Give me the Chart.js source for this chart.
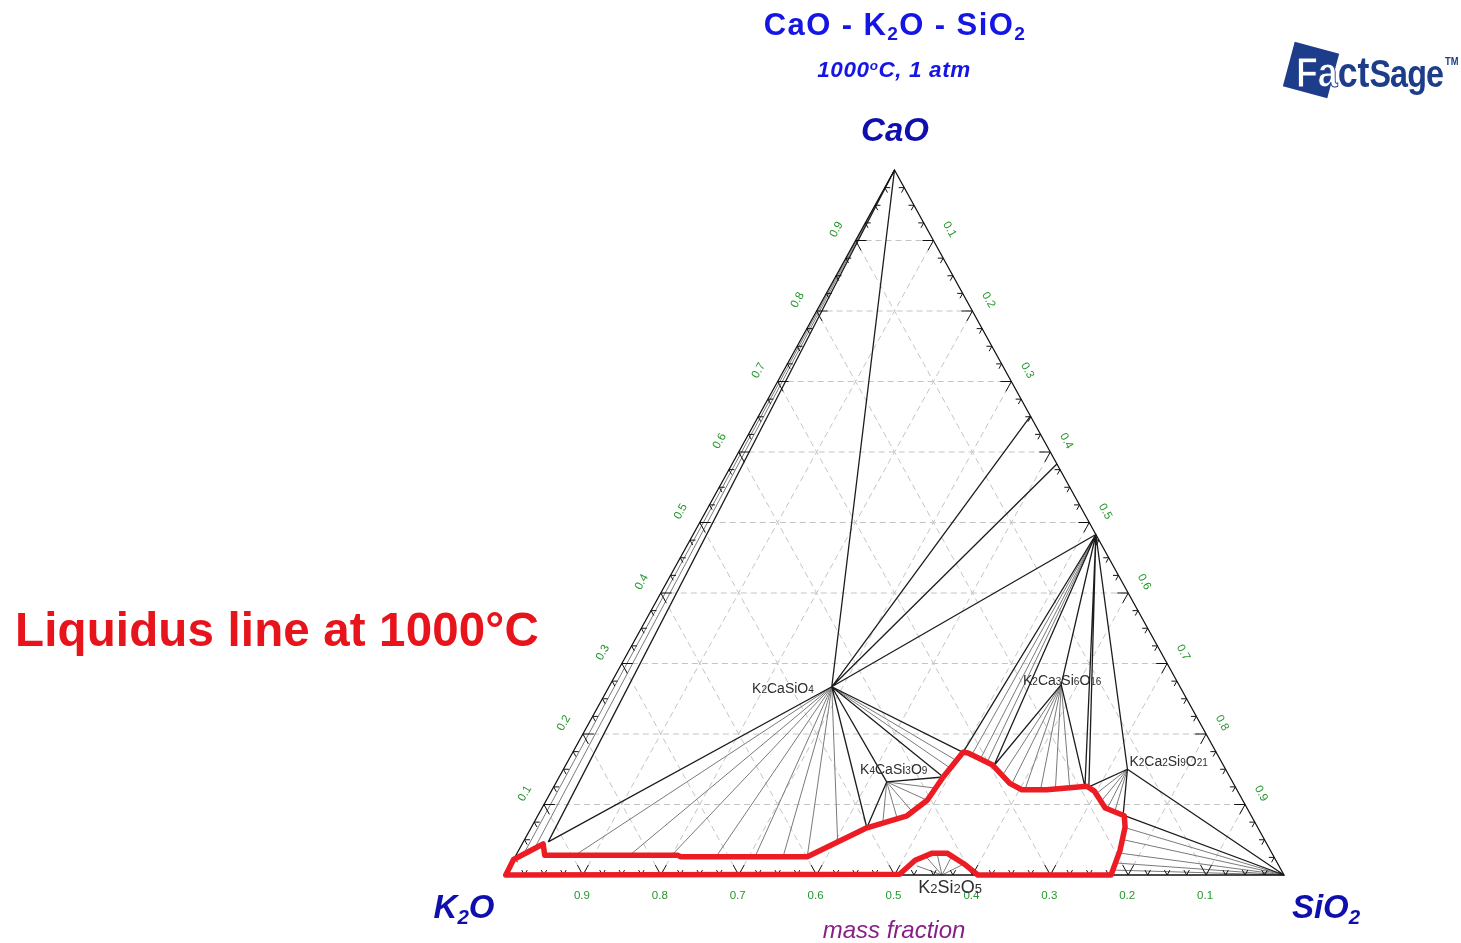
<!DOCTYPE html>
<html>
<head>
<meta charset="utf-8">
<title>CaO - K2O - SiO2 at 1000 °C</title>
<script src="https://cdn.jsdelivr.net/npm/chart.js@4.4.1/dist/chart.umd.min.js"></script>
<style>
  html, body { margin: 0; padding: 0; background: #fff; width: 1461px; height: 943px; overflow: hidden; }
  body { font-family: "Liberation Sans", Arial, sans-serif; }
  #wrap { position: absolute; left: 0; top: 0; width: 1461px; height: 943px; }
  .lbl { position: absolute; white-space: nowrap; line-height: 1; transform: translate(-50%, -50%); }
  .lbl sub { font-size: 0.62em; vertical-align: -0.3em; line-height: 0; }
  .lbl sup { font-size: 0.6em; vertical-align: 0.5em; line-height: 0; }
  #title { left: 895px; top: 24px; font-size: 31px; font-weight: bold; color: #1616e4; letter-spacing: 1.4px; }
  #subtitle { left: 894px; top: 70px; font-size: 22.5px; font-weight: bold; font-style: italic; color: #1616e4; letter-spacing: 0.6px; }
  .corner { font-size: 33px; font-weight: bold; font-style: italic; color: #0f0fae; }
  #cCaO { left: 895px; top: 129px; }
  #cK2O { left: 464px; top: 906px; }
  #cSiO2 { left: 1326px; top: 906px; }
  #massfrac { left: 894px; top: 930px; font-size: 24px; font-style: italic; color: #871f87; }
  #note { left: 277px; top: 630px; font-size: 47.5px; font-weight: bold; color: #e8141c; letter-spacing: 0.15px; }
  #logo { position: absolute; left: 1280px; top: 38px; width: 181px; height: 64px; }
  #logo .sq { position: absolute; left: 8px; top: 9px; width: 46px; height: 46px; background: #1d3d8a; transform: rotate(15deg); }
  #logo .word { position: absolute; left: 16px; top: 14px; font-size: 42px; font-weight: bold; color: #1d3d8a;
                transform: scaleX(0.85); transform-origin: left top; white-space: nowrap; line-height: 1; }
  #logo .f { color: #fff; -webkit-text-stroke: 1px #1d3d8a; }
  #logo .sage { font-size: 38px; letter-spacing: -1px; }
  #logo .tm { font-size: 11px; vertical-align: 22px; line-height: 0; margin-left: 2px; }
</style>
</head>
<body>
<div id="wrap"><canvas id="chart"></canvas></div>

<div class="lbl" id="title">CaO - K<sub>2</sub>O - SiO<sub>2</sub></div>
<div class="lbl" id="subtitle">1000<sup>o</sup>C, 1 atm</div>
<div class="lbl corner" id="cCaO">CaO</div>
<div class="lbl corner" id="cK2O">K<sub>2</sub>O</div>
<div class="lbl corner" id="cSiO2">SiO<sub>2</sub></div>
<div class="lbl" id="massfrac">mass fraction</div>
<div class="lbl" id="note">Liquidus line at 1000°C</div>
<div id="logo">
  <div class="sq"></div>
  <div class="word"><span class="f">Fa</span><span>ct</span><span class="sage">Sage</span><span class="tm">TM</span></div>
</div>

<script>
// Compositions are mass fractions written as [CaO, SiO2]; K2O is the remainder.

// Axis tick values (mass fraction)
const tickValues = [0.1, 0.2, 0.3, 0.4, 0.5, 0.6, 0.7, 0.8, 0.9];

// Stoichiometric phases
const phaseNames = ['K2O', 'CaO', 'SiO2', 'Ca2SiO4', 'Ca3Si2O7', 'CaSiO3',
                    'K2CaSiO4', 'K4CaSi3O9', 'K2Ca3Si6O16', 'K2Ca2Si9O21', 'K2Si2O5'];
const phaseCaO  = [0, 1, 0, 0.651, 0.583, 0.483, 0.267, 0.132, 0.270, 0.150, 0];
const phaseSiO2 = [0, 0, 1, 0.349, 0.417, 0.517, 0.286, 0.424, 0.579, 0.724, 0.561];

// Ternary compounds that carry a name
const namedCompounds = ['K2CaSiO4', 'K4CaSi3O9', 'K2Ca3Si6O16', 'K2Ca2Si9O21', 'K2Si2O5'];

// Tie lines between two solid phases
const solidTies = [
  ['CaO', 'K2CaSiO4'], ['Ca2SiO4', 'K2CaSiO4'], ['Ca3Si2O7', 'K2CaSiO4'], ['CaSiO3', 'K2CaSiO4'],
  ['K2CaSiO4', 'K4CaSi3O9'], ['CaSiO3', 'K2Ca3Si6O16'], ['CaSiO3', 'K2Ca2Si9O21'], ['K2Ca2Si9O21', 'SiO2']
];

// Solid + liquid tie lines: liquid ends [CaO, SiO2] for each solid.
// "Edge" ends bound the three-phase triangles; the others fill the two-phase fields.
const liqCaO_edge         = [[0.047, 0.032]];
const liqCaO              = [[0.033, 0.009], [0.038, 0.019]];
const liqK2CaSiO4_edge    = [[0.047, 0.032], [0.067, 0.431], [0.139, 0.493], [0.174, 0.501]];
const liqK2CaSiO4         = [[0.028, 0.076], [0.028, 0.146], [0.028, 0.200], [0.026, 0.258], [0.026, 0.308],
                             [0.026, 0.344], [0.026, 0.375], [0.048, 0.403], [0.152, 0.495], [0.163, 0.497]];
const liqK4CaSi3O9_edge   = [[0.067, 0.431], [0.139, 0.493]];
const liqK4CaSi3O9        = [[0.074, 0.448], [0.082, 0.462], [0.089, 0.479], [0.106, 0.489], [0.123, 0.493]];
const liqCaSiO3_edge      = [[0.174, 0.501], [0.155, 0.550], [0.125, 0.682], [0.125, 0.687]];
const liqCaSiO3           = [[0.170, 0.514], [0.163, 0.528], [0.159, 0.539]];
const liqK2Ca3Si6O16_edge = [[0.155, 0.550], [0.125, 0.682]];
const liqK2Ca3Si6O16      = [[0.143, 0.568], [0.129, 0.586], [0.121, 0.607], [0.121, 0.627], [0.121, 0.646], [0.122, 0.664]];
const liqK2Ca2Si9O21_edge = [[0.125, 0.687], [0.085, 0.751]];
const liqK2Ca2Si9O21      = [[0.115, 0.701], [0.104, 0.713], [0.094, 0.726], [0.089, 0.738]];
const liqSiO2_edge        = [[0.085, 0.751]];
const liqSiO2             = [[0.067, 0.763], [0.050, 0.769], [0.031, 0.774], [0.017, 0.776], [0.007, 0.777]];
const liqK2Si2O5          = [[0.013, 0.522], [0.024, 0.530], [0.031, 0.539], [0.030, 0.560], [0.017, 0.583]];

// Liquidus outline at 1000 °C (closed)
const liquidusCaO  = [0, 0.022, 0.044, 0.028, 0.028, 0.026, 0.026, 0.067, 0.084, 0.106, 0.139, 0.174, 0.173,
                      0.156, 0.130, 0.121, 0.121, 0.126, 0.119, 0.095, 0.084, 0.068, 0.035, 0,
                      0, 0, 0.016, 0.031, 0.031, 0.021, 0.001, 0];
const liquidusSiO2 = [0.001, 0, 0.027, 0.037, 0.208, 0.212, 0.375, 0.431, 0.474, 0.489, 0.493, 0.501, 0.508,
                      0.548, 0.583, 0.603, 0.635, 0.684, 0.697, 0.723, 0.753, 0.762, 0.772, 0.778,
                      0.695, 0.607, 0.581, 0.552, 0.533, 0.516, 0.506, 0.001];

// ---------------------------------------------------------------------------
// Ternary → plot coordinates: x runs K2O→SiO2 along the base, y is the CaO fraction.
const P = (c, s) => ({ x: s + c / 2, y: c });
const GAP = { x: null, y: null };
const phaseAt = name => { const i = phaseNames.indexOf(name); return [phaseCaO[i], phaseSiO2[i]]; };

const common = { showLine: true, pointRadius: 0, pointHoverRadius: 0, fill: false, tension: 0, clip: false, spanGaps: false };
const STYLE = {
  grid:     { borderColor: '#c4c4c4', borderWidth: 1, borderDash: [6, 4], order: 6 },
  grey:     { borderColor: '#7a7a7a', borderWidth: 1, order: 5 },
  black:    { borderColor: '#1c1c1c', borderWidth: 1.3, order: 4 },
  frame:    { borderColor: '#111111', borderWidth: 1.3, order: 3 },
  tick:     { borderColor: '#111111', borderWidth: 1, order: 3 },
  liquidus: { borderColor: '#ec1c24', borderWidth: 5.5, borderJoinStyle: 'round', borderCapStyle: 'round', order: 0 }
};

const datasets = [];
function addPaths(paths, style) {
  const data = [];
  paths.forEach((path, k) => {
    if (k) data.push(GAP);
    path.forEach(([c, s]) => data.push(P(c, s)));
  });
  datasets.push(Object.assign({ data }, common, style));
}

// dashed composition grid
const gridPaths = [];
tickValues.forEach(v => {
  gridPaths.push([[v, 0], [v, 1 - v]]);          // constant CaO
  gridPaths.push([[0, v], [1 - v, v]]);          // constant SiO2
  gridPaths.push([[0, 1 - v], [1 - v, 0]]);      // constant K2O
});
addPaths(gridPaths, STYLE.grid);

// tie lines
function fan(originName, ends) { const o = phaseAt(originName); return ends.map(e => [o, e]); }
addPaths([].concat(
  fan('CaO', liqCaO), fan('K2CaSiO4', liqK2CaSiO4), fan('K4CaSi3O9', liqK4CaSi3O9),
  fan('CaSiO3', liqCaSiO3), fan('K2Ca3Si6O16', liqK2Ca3Si6O16), fan('K2Ca2Si9O21', liqK2Ca2Si9O21),
  fan('SiO2', liqSiO2), fan('K2Si2O5', liqK2Si2O5)
), STYLE.grey);
addPaths([].concat(
  solidTies.map(([a, b]) => [phaseAt(a), phaseAt(b)]),
  fan('CaO', liqCaO_edge), fan('K2CaSiO4', liqK2CaSiO4_edge), fan('K4CaSi3O9', liqK4CaSi3O9_edge),
  fan('CaSiO3', liqCaSiO3_edge), fan('K2Ca3Si6O16', liqK2Ca3Si6O16_edge),
  fan('K2Ca2Si9O21', liqK2Ca2Si9O21_edge), fan('SiO2', liqSiO2_edge)
), STYLE.black);

// triangle frame
addPaths([[phaseAt('K2O'), phaseAt('SiO2'), phaseAt('CaO'), phaseAt('K2O')]], STYLE.frame);

// edge ticks: every 0.025, longer at each tenth, pointing inward along the grid directions
const tickPaths = [];
for (let j = 1; j < 40; j++) {
  const f = j / 40, len = (j % 4 === 0) ? 0.014 : 0.007;
  tickPaths.push([[len, f], [0, f], [len, f - len]]);                 // base (K2O–SiO2)
  tickPaths.push([[f, len], [f, 0], [f - len, len]]);                 // left (K2O–CaO)
  tickPaths.push([[f, 1 - f - len], [f, 1 - f], [f - len, 1 - f]]);   // right (CaO–SiO2)
}
addPaths(tickPaths, STYLE.tick);

// liquidus
addPaths([liquidusCaO.map((c, i) => [c, liquidusSiO2[i]])], STYLE.liquidus);

// ---------------------------------------------------------------------------
// Text drawn on the canvas: axis values and compound names
const FONT = '"Liberation Sans", Arial, sans-serif';
const compoundLabel = {
  K2CaSiO4:    { dx: -18, dy: 1,   size: 14, align: 'right' },
  K4CaSi3O9:   { dx: 7,   dy: -13, size: 14, align: 'center' },
  K2Ca3Si6O16: { dx: 1,   dy: -5,  size: 14, align: 'center' },
  K2Ca2Si9O21: { dx: 2,   dy: -8,  size: 14, align: 'left' },
  K2Si2O5:     { dx: 8,   dy: 12,  size: 18, align: 'center' }
};

function drawFormula(ctx, text, x, y, size, align) {
  const parts = text.match(/[A-Za-z]+|\d+/g);
  const big = size + 'px ' + FONT, small = Math.round(size * 0.72) + 'px ' + FONT;
  let w = 0;
  parts.forEach(p => { ctx.font = /\d/.test(p) ? small : big; w += ctx.measureText(p).width; });
  let cx = align === 'center' ? x - w / 2 : align === 'right' ? x - w : x;
  ctx.textAlign = 'left';
  ctx.textBaseline = 'alphabetic';
  parts.forEach(p => {
    ctx.font = /\d/.test(p) ? small : big;
    ctx.fillText(p, cx, y + size * 0.36);
    cx += ctx.measureText(p).width;
  });
}

const ternaryText = {
  id: 'ternaryText',
  afterDatasetsDraw(chart) {
    const { ctx, scales } = chart;
    const px = (c, s) => [scales.x.getPixelForValue(s + c / 2), scales.y.getPixelForValue(c)];
    const tilt = Math.atan2(scales.y.getPixelForValue(0) - scales.y.getPixelForValue(1),
                            scales.x.getPixelForValue(0.5) - scales.x.getPixelForValue(0));
    ctx.save();
    ctx.fillStyle = '#24962a';
    ctx.font = '11.5px ' + FONT;
    ctx.textAlign = 'center';
    ctx.textBaseline = 'middle';
    tickValues.forEach(v => {
      const t = v.toFixed(1);
      const [bx, by] = px(0, 1 - v);          // K2O on the base
      ctx.fillText(t, bx - 1, by + 21);
      const [lx, ly] = px(v, 0);              // CaO on the left side
      ctx.save(); ctx.translate(lx - 19, ly - 11); ctx.rotate(-tilt); ctx.fillText(t, 0, 0); ctx.restore();
      const [rx, ry] = px(1 - v, v);          // SiO2 on the right side
      ctx.save(); ctx.translate(rx + 16, ry - 11); ctx.rotate(tilt); ctx.fillText(t, 0, 0); ctx.restore();
    });
    ctx.fillStyle = '#2e2e2e';
    namedCompounds.forEach(name => {
      const [c, s] = phaseAt(name);
      const [x, y] = px(c, s);
      const st = compoundLabel[name];
      drawFormula(ctx, name, x + st.dx, y + st.dy, st.size, st.align);
    });
    ctx.restore();
  }
};

new Chart(document.getElementById('chart'), {
  type: 'scatter',
  data: { datasets },
  options: {
    responsive: true,
    maintainAspectRatio: false,
    devicePixelRatio: 1,
    animation: false,
    events: [],
    layout: { padding: { left: 505, right: 177, top: 170, bottom: 68 } },
    scales: {
      x: { type: 'linear', min: 0, max: 1, display: false },
      y: { type: 'linear', min: 0, max: 1, display: false }
    },
    plugins: { legend: { display: false }, tooltip: { enabled: false }, title: { display: false } }
  },
  plugins: [ternaryText]
});
</script>
</body>
</html>
